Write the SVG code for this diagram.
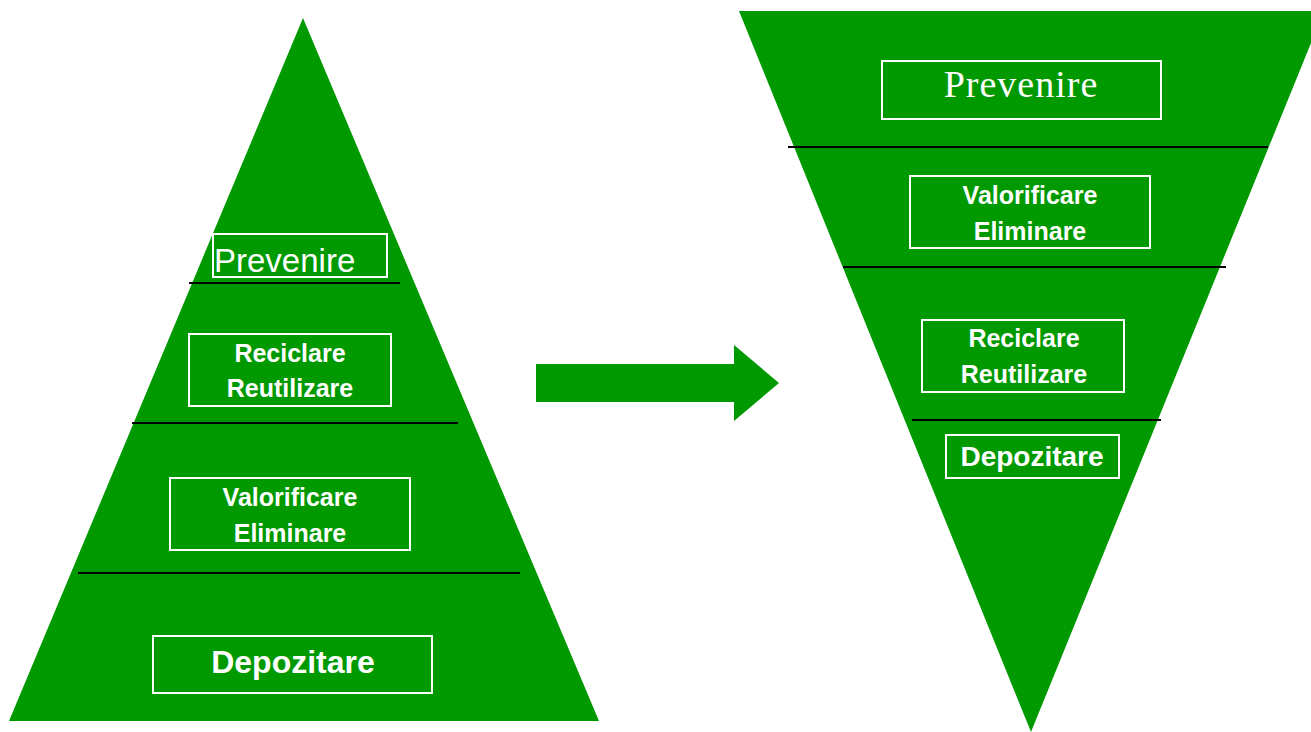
<svg xmlns="http://www.w3.org/2000/svg" width="1311" height="732" viewBox="0 0 1311 732">
<style>
.shape{fill:#009900;}
.sep{stroke:#000;stroke-width:2;fill:none;}
.box{fill:none;stroke:#fff;stroke-width:2;}
.lbl{fill:#fff;font-family:"Liberation Sans",Arial,sans-serif;font-weight:bold;font-size:25px;text-anchor:middle;}
.big{font-size:32px;}
.thin{fill:#fff;font-family:"Liberation Sans",Arial,sans-serif;font-size:33px;}
.serif{fill:#fff;font-family:"Liberation Serif","Times New Roman",serif;font-size:38px;letter-spacing:1px;text-anchor:middle;}
</style>
<rect width="1311" height="732" fill="#fff"/>
<g id="left-pyramid">
<polygon class="shape" points="303,18 599,721 9,721"/>
<line class="sep" x1="189" y1="283" x2="400" y2="283"/>
<line class="sep" x1="132" y1="423" x2="458" y2="423"/>
<line class="sep" x1="78" y1="573" x2="520" y2="573"/>
</g>
<g id="left-prevenire">
<rect class="box" x="213" y="234" width="174" height="43"/>
<text class="thin" x="214" y="272">Prevenire</text>
</g>
<g id="left-reciclare">
<rect class="box" x="189" y="334" width="202" height="72"/>
<text class="lbl" x="290" y="362">Reciclare</text>
<text class="lbl" x="290" y="397">Reutilizare</text>
</g>
<g id="left-valorificare">
<rect class="box" x="170" y="478" width="240" height="72"/>
<text class="lbl" x="290" y="506">Valorificare</text>
<text class="lbl" x="290" y="542">Eliminare</text>
</g>
<g id="left-depozitare">
<rect class="box" x="153" y="636" width="279" height="57"/>
<text class="lbl big" x="293" y="673">Depozitare</text>
</g>
<g id="connectors">
<polygon class="shape" points="536,364 734,364 734,345 779,383 734,421 734,402 536,402"/>
</g>
<g id="right-pyramid">
<polygon class="shape" points="739,11 1324,11 1031,732"/>
<line class="sep" x1="788" y1="147" x2="1268" y2="147"/>
<line class="sep" x1="843" y1="267" x2="1226" y2="267"/>
<line class="sep" x1="912" y1="420" x2="1161" y2="420"/>
</g>
<g id="right-prevenire">
<rect class="box" x="882" y="61" width="279" height="58"/>
<text class="serif" x="1021" y="97">Prevenire</text>
</g>
<g id="right-valorificare">
<rect class="box" x="910" y="176" width="240" height="72"/>
<text class="lbl" x="1030" y="204">Valorificare</text>
<text class="lbl" x="1030" y="240">Eliminare</text>
</g>
<g id="right-reciclare">
<rect class="box" x="922" y="320" width="202" height="72"/>
<text class="lbl" x="1024" y="347">Reciclare</text>
<text class="lbl" x="1024" y="383">Reutilizare</text>
</g>
<g id="right-depozitare">
<rect class="box" x="946" y="435" width="173" height="43"/>
<text class="lbl" style="font-size:28px" x="1032" y="466">Depozitare</text>
</g>
</svg>
